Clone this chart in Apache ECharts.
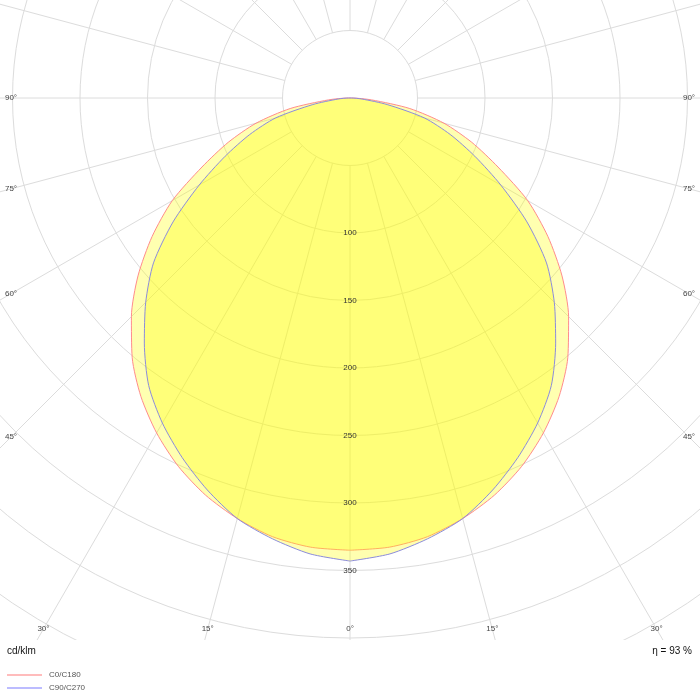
<!DOCTYPE html>
<html>
<head>
<meta charset="utf-8">
<script src="https://cdn.jsdelivr.net/npm/echarts@6/dist/echarts.min.js"></script>
<style>html,body{margin:0;padding:0;background:#fff}#c{width:700px;height:700px}</style>
</head>
<body>
<div id="c"></div>
<script>
// ---- data ----
const gammaAngles = [0, 5, 10, 15, 20, 25, 30, 35, 40, 45, 50, 55, 60, 65, 70, 75, 80, 85, 90];
const c0c180  = [335, 334, 330, 322.5, 313, 301, 286.5, 270, 251, 229, 205, 179, 152, 121, 96, 72, 45, 16, 1];
const c90c270 = [343, 339, 331.5, 322.5, 309, 294, 278, 260, 237, 214, 190, 160, 129, 102, 79, 57, 28, 9, 1];
const seriesNames = ['C0/C180', 'C90/C270'];
const radiusTickLabels = [100, 150, 200, 250, 300, 350];
const angleTickLabels = [0, 15, 30, 45, 60, 75, 90];
const unitText = 'cd/klm';
const efficiencyText = 'η = 93 %';

// ---- build closed curves (mirror for the opposite half-plane) ----
function loop(vals) {
  const pts = [];
  for (let i = 0; i < gammaAngles.length; i++) pts.push([vals[i], gammaAngles[i]]);
  for (let i = gammaAngles.length - 1; i >= 0; i--) pts.push([vals[i], 360 - gammaAngles[i]]);
  return pts;
}

const FONT = '"Liberation Sans", Arial, sans-serif';
const GRID = '#dcdcdc';
const chart = echarts.init(document.getElementById('c'), null, {renderer: 'canvas'});

const option = {
  backgroundColor: '#ffffff',
  animation: false,
  textStyle: {fontFamily: FONT},
  polar: [
    {center: [350, 98], radius: [67.5, 675]},
    {center: [350, 98], radius: [0, 675]}
  ],
  angleAxis: [
    {polarIndex: 0, type: 'value', min: 0, max: 360, interval: 15, startAngle: -90, clockwise: true,
     axisLine: {show: false}, axisTick: {show: false}, axisLabel: {show: false},
     splitLine: {show: true, lineStyle: {color: GRID, width: 1}}, silent: true, z: 0},
    {polarIndex: 1, type: 'value', min: 0, max: 360, startAngle: -90, clockwise: true, show: false}
  ],
  radiusAxis: [
    {polarIndex: 0, type: 'value', min: 50, max: 500, interval: 50,
     axisLine: {show: false}, axisTick: {show: false}, axisLabel: {show: false},
     splitLine: {show: true, lineStyle: {color: GRID, width: 1}},
     silent: true, z: 0},
    {polarIndex: 1, type: 'value', min: 0, max: 500, interval: 50,
     axisLine: {show: false}, axisTick: {show: false}, splitLine: {show: false},
     axisLabel: {show: true, margin: 0, align: 'center', verticalAlign: 'middle', padding: [4, 0, 0, 0],
       fontSize: 8, color: '#333', fontFamily: FONT,
       formatter: v => radiusTickLabels.includes(v) ? String(v) : ''},
     silent: true, z: 10}
  ],
  legend: {
    orient: 'vertical', left: 7, top: 671, padding: 0, itemWidth: 35, itemHeight: 2, itemGap: 5,
    icon: 'rect', selectedMode: false, z: 200,
    textStyle: {fontSize: 8, color: '#555', fontFamily: FONT, padding: [0, 0, 0, 2]},
    data: [
      {name: seriesNames[0], itemStyle: {color: '#ffbcbc'}},
      {name: seriesNames[1], itemStyle: {color: '#bcbcff'}}
    ]
  },
  series: [
    {name: seriesNames[0], type: 'line', coordinateSystem: 'polar', polarIndex: 1,
     data: loop(c0c180), symbol: 'none', silent: true, z: 2, smooth: 0.25,
     lineStyle: {color: '#ff8c8c', width: 1}, itemStyle: {color: '#ff8c8c'},
     areaStyle: {color: 'rgba(255,255,0,0.31)', opacity: 1}},
    {name: seriesNames[1], type: 'line', coordinateSystem: 'polar', polarIndex: 1,
     data: loop(c90c270), symbol: 'none', silent: true, z: 3, smooth: 0.25,
     lineStyle: {color: '#8c8cdc', width: 1}, itemStyle: {color: '#8c8cdc'},
     areaStyle: {color: 'rgba(255,255,0,0.31)', opacity: 1}}
  ]
};
chart.setOption(option);

// ---- angle labels at the plot frame, derived from the polar scale ----
const LABEL_LEFT = 11, LABEL_RIGHT = 689, LABEL_BOTTOM = 629;
let c = chart.convertToPixel({seriesIndex: 0}, [0, 0]);
function toPix(r, a) {
  const p = chart.convertToPixel({seriesIndex: 0}, [r, a]);
  if (p) return p;
  const rad = (a) * Math.PI / 180;
  return [350 - r * 1.35 * Math.sin(rad), 98 + r * 1.35 * Math.cos(rad)];
}
if (!c) c = [350, 98];
const elements = [
  {type: 'rect', shape: {x: 0, y: 640, width: 700, height: 60}, style: {fill: '#ffffff'}, z: 100, silent: true}
];
angleTickLabels.forEach(a => {
  const angs = a === 0 ? [0] : [a, 360 - a];
  angs.forEach(ang => {
    const p = toPix(100, ang);
    const dx = p[0] - c[0], dy = p[1] - c[1];
    let t = Infinity;
    if (dx < -1e-6) t = Math.min(t, (LABEL_LEFT - c[0]) / dx);
    if (dx > 1e-6) t = Math.min(t, (LABEL_RIGHT - c[0]) / dx);
    if (dy > 1e-6) t = Math.min(t, (LABEL_BOTTOM - c[1]) / dy);
    elements.push({type: 'text', x: c[0] + dx * t, y: c[1] + dy * t, z: 150, silent: true,
      style: {text: a + '°', fill: '#444', font: '8px ' + FONT, align: 'center', verticalAlign: 'middle',
              textAlign: 'center', textVerticalAlign: 'middle'}});
  });
});
elements.push({type: 'text', x: 7, y: 651, z: 150, silent: true,
  style: {text: unitText, fill: '#111', font: '10px ' + FONT, align: 'left', verticalAlign: 'middle',
          textAlign: 'left', textVerticalAlign: 'middle'}});
elements.push({type: 'text', x: 692, y: 651, z: 150, silent: true,
  style: {text: efficiencyText, fill: '#111', font: '10px ' + FONT, align: 'right', verticalAlign: 'middle',
          textAlign: 'right', textVerticalAlign: 'middle'}});
chart.setOption({graphic: {elements: elements}});
</script>
</body>
</html>
